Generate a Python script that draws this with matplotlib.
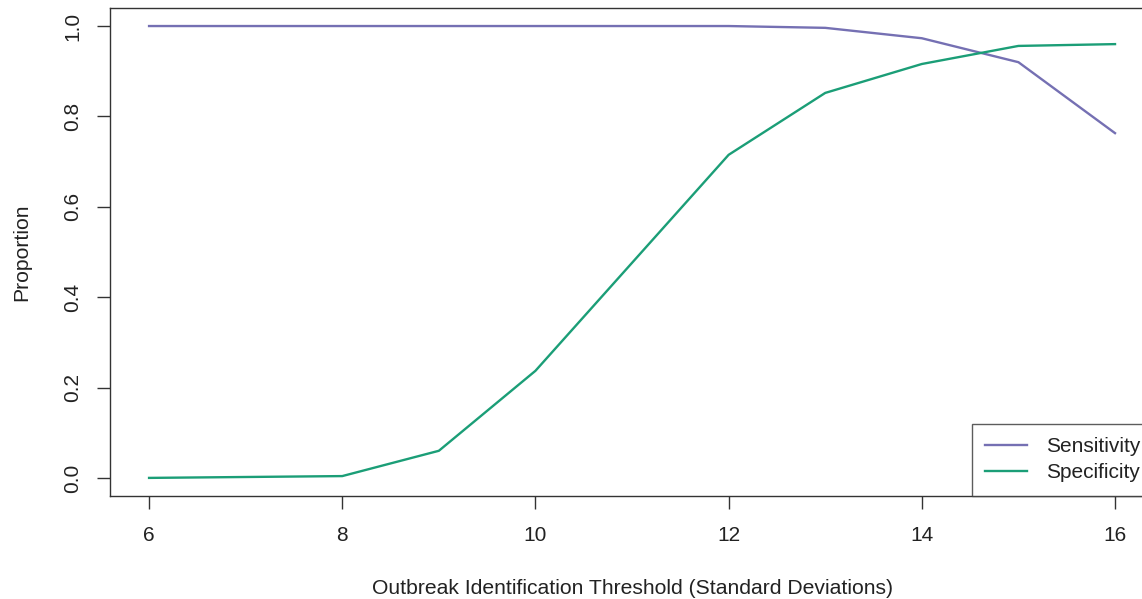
import matplotlib
matplotlib.use("Agg")
import matplotlib.pyplot as plt
import numpy as np

plt.rcParams['font.family'] = ['Liberation Sans', 'DejaVu Sans']

threshold = [6, 7, 8, 9, 10, 11, 12, 13, 14, 15, 16]
sensitivity = [1.0, 1.0, 1.0, 1.0, 1.0, 1.0, 1.0, 0.996, 0.973, 0.920, 0.763]
specificity = [0.0, 0.002, 0.004, 0.060, 0.237, 0.476, 0.715, 0.852, 0.916, 0.956, 0.960]

col_sens = "#7570B3"
col_spec = "#1B9E77"

fig = plt.figure(figsize=(11.42, 5.99), dpi=100)
ax = fig.add_axes([0.0967, 0.172, 0.9135, 0.8147])

ax.plot(threshold, sensitivity, color=col_sens, lw=1.7, label="Sensitivity")
ax.plot(threshold, specificity, color=col_spec, lw=1.7, label="Specificity")

# R-style 4% padding around the data range
ax.set_xlim(5.6, 16.4)
ax.set_ylim(-0.04, 1.04)

ax.set_xticks([6, 8, 10, 12, 14, 16])
ax.set_yticks([0.0, 0.2, 0.4, 0.6, 0.8, 1.0])
ax.set_yticklabels(["0.0", "0.2", "0.4", "0.6", "0.8", "1.0"], rotation=90, va="center")
ax.tick_params(axis="both", length=9.4, width=1, color="#333333", labelsize=15,
               labelcolor="#222222")
ax.tick_params(axis="x", pad=12)
ax.tick_params(axis="y", pad=11)

for s in ax.spines.values():
    s.set_color("#333333")
    s.set_linewidth(1)

ax.set_xlabel("Outbreak Identification Threshold (Standard Deviations)",
              fontsize=15.2, color="#222222", labelpad=25)
ax.set_ylabel("Proportion", fontsize=15.2, color="#222222", labelpad=23)

leg = ax.legend(loc="lower right", fontsize=15, frameon=True, fancybox=False,
                borderaxespad=0, handlelength=2.0, handletextpad=0.9,
                borderpad=0.65, labelspacing=0.35)
leg.get_frame().set_edgecolor("#333333")
leg.get_frame().set_linewidth(1)
for t in leg.get_texts():
    t.set_color("#222222")

fig.savefig("out.png", dpi=100)
